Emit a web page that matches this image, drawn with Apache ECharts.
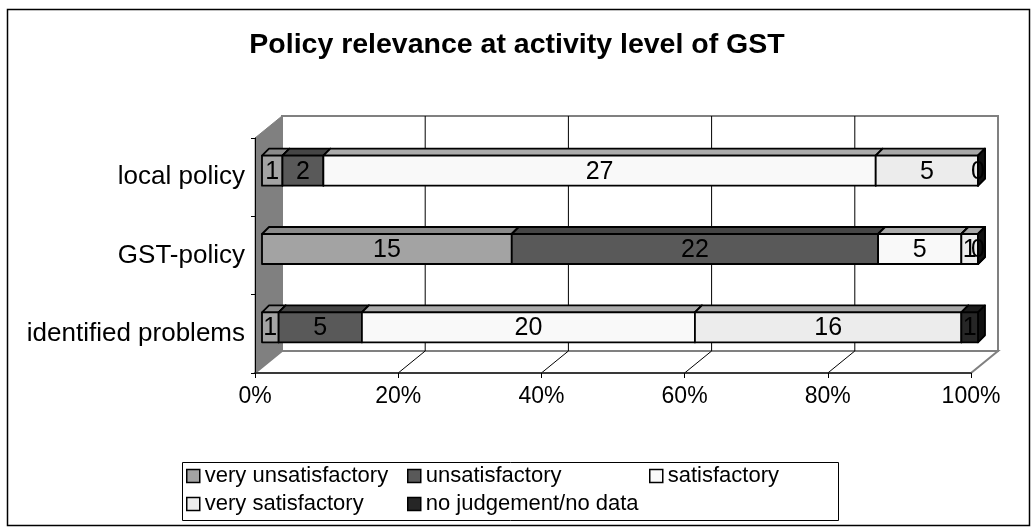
<!DOCTYPE html>
<html>
<head>
<meta charset="utf-8">
<script src="https://cdn.jsdelivr.net/npm/echarts@6/dist/echarts.min.js"></script>
<style>
  html, body { margin: 0; padding: 0; background: #fff; }
  #chart { width: 1034px; height: 527px; }
</style>
</head>
<body>
<div id="chart"></div>
<script>
// Categories listed bottom to top along the category axis
const categories = ['identified problems', 'GST-policy', 'local policy'];
const statusNames = ['very unsatisfactory', 'unsatisfactory', 'satisfactory', 'very satisfactory', 'no judgement/no data'];

// Number of answers per rating, one entry per category
const veryUnsatisfactory = [1, 15, 1];
const unsatisfactory = [5, 22, 2];
const satisfactory = [20, 5, 27];
const verySatisfactory = [16, 1, 5];
const noJudgement = [1, 0, 0];

const percentTicks = [0, 20, 40, 60, 80, 100];

const counts = [veryUnsatisfactory, unsatisfactory, satisfactory, verySatisfactory, noJudgement];

// Shading of the three visible faces of each box
const faces = [
  { front: '#a3a3a3', top: '#8a8a8a', side: '#777777' },
  { front: '#595959', top: '#454545', side: '#3a3a3a' },
  { front: '#f9f9f9', top: '#ababab', side: '#c4c4c4' },
  { front: '#ececec', top: '#a8a8a8', side: '#c0c0c0' },
  { front: '#262626', top: '#1c1c1c', side: '#111111' }
];

const FONT = '"Liberation Sans", Arial, Helvetica, sans-serif';
const WALL_DEPTH = [27, -22];   // offset from front plane to back wall
const BAR_SHIFT = [7, -6.5];    // offset from front plane to bar front face
const BAR_DEPTH = [7, -7];      // thickness of the bars in depth
const BAR_RATIO = 0.383;        // bar height relative to category band

// Stacked percentage segments: [start%, end%, categoryIndex, count]
const totals = categories.map((c, k) => counts.reduce((s, arr) => s + arr[k], 0));
const segmentData = counts.map(() => []);
categories.forEach((c, k) => {
  let acc = 0;
  counts.forEach((arr, i) => {
    const start = acc / totals[k] * 100;
    acc += arr[k];
    const end = acc / totals[k] * 100;
    segmentData[i].push([start, end, k, arr[k]]);
  });
});

function renderFrame(params, api) {
  const cs = params.coordSys;
  const L = cs.x, T = cs.y, R = cs.x + cs.width, B = cs.y + cs.height;
  const dx = WALL_DEPTH[0], dy = WALL_DEPTH[1];
  const children = [];
  children.push({ type: 'rect', shape: { x: L + dx, y: T + dy, width: cs.width, height: cs.height },
    style: { fill: '#fff', stroke: '#808080', lineWidth: 2 } });
  children.push({ type: 'polygon', shape: { points: [[L, T], [L + dx, T + dy], [L + dx, B + dy], [L, B]] },
    style: { fill: '#808080', stroke: '#808080', lineWidth: 1 } });
  children.push({ type: 'polygon', shape: { points: [[L, B], [R, B], [R + dx, B + dy], [L + dx, B + dy]] },
    style: { fill: '#fff', stroke: '#808080', lineWidth: 2 } });
  percentTicks.forEach(v => {
    if (v <= 0 || v >= 100) return;
    const x = api.coord([v, 0])[0];
    children.push({ type: 'line', shape: { x1: x + dx, y1: T + dy, x2: x + dx, y2: B + dy },
      style: { stroke: '#000', lineWidth: 1 } });
    children.push({ type: 'line', shape: { x1: x, y1: B, x2: x + dx, y2: B + dy },
      style: { stroke: '#000', lineWidth: 1 } });
  });
  return { type: 'group', children };
}

function segmentRenderer(face) {
  return function (params, api) {
    const start = api.value(0), end = api.value(1), cat = api.value(2), count = api.value(3);
    const a = api.coord([start, cat]);
    const b = api.coord([end, cat]);
    const h = api.size([0, 1])[1] * BAR_RATIO;
    const x0 = a[0] + BAR_SHIFT[0], x1 = b[0] + BAR_SHIFT[0];
    const yc = a[1] + BAR_SHIFT[1];
    const top = yc - h / 2, bottom = yc + h / 2;
    const dx = BAR_DEPTH[0], dy = BAR_DEPTH[1];
    const edge = { stroke: '#000', lineWidth: 1.8, lineJoin: 'round' };
    return {
      type: 'group',
      children: [
        { type: 'polygon', shape: { points: [[x0, top], [x1, top], [x1 + dx, top + dy], [x0 + dx, top + dy]] },
          style: Object.assign({ fill: face.top }, edge) },
        { type: 'polygon', shape: { points: [[x1, top], [x1 + dx, top + dy], [x1 + dx, bottom + dy], [x1, bottom]] },
          style: Object.assign({ fill: face.side }, edge) },
        { type: 'rect', shape: { x: x0, y: top, width: x1 - x0, height: h },
          style: Object.assign({ fill: face.front }, edge) },
        { type: 'text', x: (x0 + x1) / 2, y: yc + 1,
          style: { text: String(count), fill: '#000', fontSize: 25, fontFamily: FONT,
                   align: 'center', verticalAlign: 'middle' } }
      ]
    };
  };
}

const legendSpots = [[186, 465], [407, 465], [649, 465], [186, 493], [407, 493]];

const chart = echarts.init(document.getElementById('chart'), null, { renderer: 'canvas' });
chart.setOption({
  backgroundColor: '#fff',
  animation: false,
  title: {
    text: 'Policy relevance at activity level of GST',
    left: 'center', top: 31, padding: 0,
    textStyle: { fontSize: 28.5, fontWeight: 'bold', color: '#000', fontFamily: FONT }
  },
  grid: { left: 255, right: 63, top: 138, bottom: 154, containLabel: false },
  xAxis: {
    type: 'value', min: 0, max: 100, interval: 20, z: 5,
    axisLine: { show: true, lineStyle: { color: '#222', width: 1.5 } },
    axisTick: { show: true, length: 5, lineStyle: { color: '#000' } },
    splitLine: { show: false },
    axisLabel: { formatter: '{value}%', fontSize: 23, color: '#000', fontFamily: FONT, margin: 12 }
  },
  yAxis: {
    type: 'category', data: categories, z: 5,
    axisLine: { show: true, lineStyle: { color: '#000', width: 1 } },
    axisTick: { show: true, length: 4, lineStyle: { color: '#000' } },
    splitLine: { show: false },
    axisLabel: { fontSize: 26, color: '#000', fontFamily: FONT, margin: 10 }
  },
  legend: statusNames.map((name, i) => ({
    data: [name], left: legendSpots[i][0], top: legendSpots[i][1], padding: 0,
    itemWidth: 13, itemHeight: 13, icon: 'rect', selectedMode: false,
    itemStyle: { borderColor: '#000', borderWidth: 1.5 },
    textStyle: { fontSize: 22, color: '#000', fontFamily: FONT }
  })),
  graphic: [
    { type: 'rect', shape: { x: 7.5, y: 9.5, width: 1022, height: 516 },
      style: { fill: 'none', stroke: '#000', lineWidth: 1.5 }, silent: true, z: -1 },
    { type: 'rect', shape: { x: 182.5, y: 462.5, width: 656, height: 58 },
      style: { fill: 'none', stroke: '#000', lineWidth: 1 }, silent: true }
  ],
  series: [
    { type: 'custom', name: 'frame', silent: true, z: 1, data: [[0]], renderItem: renderFrame }
  ].concat(statusNames.map((name, i) => ({
    type: 'custom', name: name, z: 2,
    itemStyle: { color: faces[i].front, borderColor: '#000', borderWidth: 1.5 },
    encode: { x: [0, 1], y: 2 },
    data: segmentData[i],
    renderItem: segmentRenderer(faces[i])
  })))
});
</script>
</body>
</html>
